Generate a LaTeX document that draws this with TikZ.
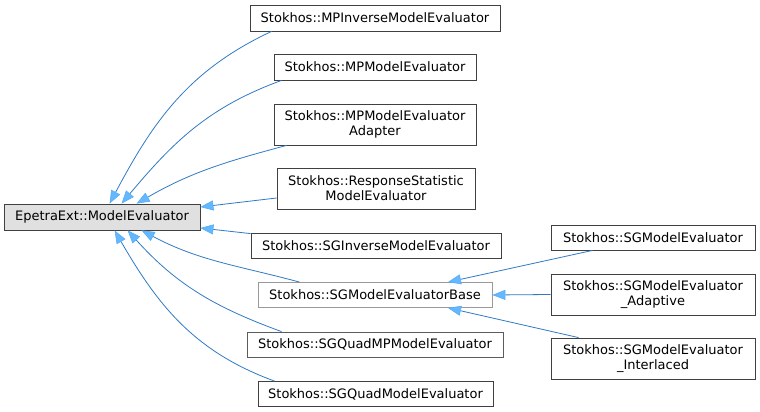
\documentclass[tikz,border=0pt]{standalone}
\usepackage{fontspec}
\setmainfont{DejaVu Sans}
\usetikzlibrary{arrows.meta,calc}
\definecolor{edgeblue}{HTML}{2F7AC4}
\definecolor{headblue}{HTML}{63B8FF}
\definecolor{basefill}{HTML}{E0E0E0}
\definecolor{darkborder}{HTML}{404040}
\definecolor{grayborder}{HTML}{999999}
\begin{document}
\begin{tikzpicture}[x=1pt,y=1pt,
  box/.style={draw=darkborder,fill=white,line width=0.8pt,rectangle,inner sep=0pt,align=center,
    font=\fontsize{13}{15}\selectfont},
  graybox/.style={box,draw=grayborder},
  edge/.style={draw=edgeblue,line width=0.8pt,
    arrows={Triangle[length=13pt,width=10pt,color=headblue!80!edgeblue,fill=headblue,line width=0.6pt]-}}]
\useasboundingbox (0,0) rectangle (760,412);
% nodes
\node[box,fill=basefill,minimum width=196,minimum height=26] (base) at (102,195) {EpetraExt::ModelEvaluator};
\node[box,minimum width=250,minimum height=26] (mpinv) at (375,394) {Stokhos::MPInverseModelEvaluator};
\node[box,minimum width=202,minimum height=26] (mpmodel) at (375,345) {Stokhos::MPModelEvaluator};
\node[box,minimum width=202,minimum height=41] (adapter) at (375,287.5) {Stokhos::MPModelEvaluator\\Adapter};
\node[box,minimum width=198,minimum height=41] (resp) at (376,223.5) {Stokhos::ResponseStatistic\\ModelEvaluator};
\node[box,minimum width=250,minimum height=25] (sginv) at (376,166.5) {Stokhos::SGInverseModelEvaluator};
\node[graybox,minimum width=234,minimum height=25] (sgbase) at (375,117) {Stokhos::SGModelEvaluatorBase};
\node[box,draw=grayborder!60!black,minimum width=256,minimum height=25] (sgquadmp) at (375,67.5) {Stokhos::SGQuadMPModelEvaluator};
\node[box,minimum width=235,minimum height=25] (sgquad) at (375.5,18) {Stokhos::SGQuadModelEvaluator};
\node[box,minimum width=204,minimum height=25] (sgmodel) at (653,174.5) {Stokhos::SGModelEvaluator};
\node[box,minimum width=204,minimum height=41] (adaptive) at (653,117.5) {Stokhos::SGModelEvaluator\\\_Adaptive};
\node[box,minimum width=204,minimum height=41] (interlaced) at (653,53.5) {Stokhos::SGModelEvaluator\\\_Interlaced};
% edges to base
\draw[edge] ($(base.north west)+(106,0)$) to[out=62,in=205] ($(mpinv.south west)+(22,0)$);
\draw[edge] ($(base.north west)+(118,0)$) to[out=50,in=200] ($(mpmodel.south west)+(8,0)$);
\draw[edge] ($(base.north west)+(133,0)$) to[out=30,in=195] ($(adapter.south west)+(13,0)$);
\draw[edge] ($(base.east)+(0,10)$) -- ($(resp.west)+(0,-9.5)$);
\draw[edge] ($(base.east)+(0,-11)$) -- ($(sginv.north west)+(0,-1)$);
\draw[edge] ($(base.south west)+(138,0)$) to[out=-28,in=165] ($(sgbase.north west)+(42,0)$);
\draw[edge] ($(base.south west)+(124,0)$) to[out=-48,in=160] ($(sgquadmp.north west)+(35,0)$);
\draw[edge] ($(base.south west)+(111,0)$) to[out=-60,in=160] ($(sgquad.north west)+(17,0)$);
% edges to sgbase
\draw[edge] ($(sgbase.north)+(73,0)$) -- ($(sgmodel.south west)+(42,0)$);
\draw[edge] (sgbase.east) -- (adaptive.west);
\draw[edge] ($(sgbase.south)+(73,0)$) -- ($(interlaced.north west)+(28,0)$);
\end{tikzpicture}
\end{document}
